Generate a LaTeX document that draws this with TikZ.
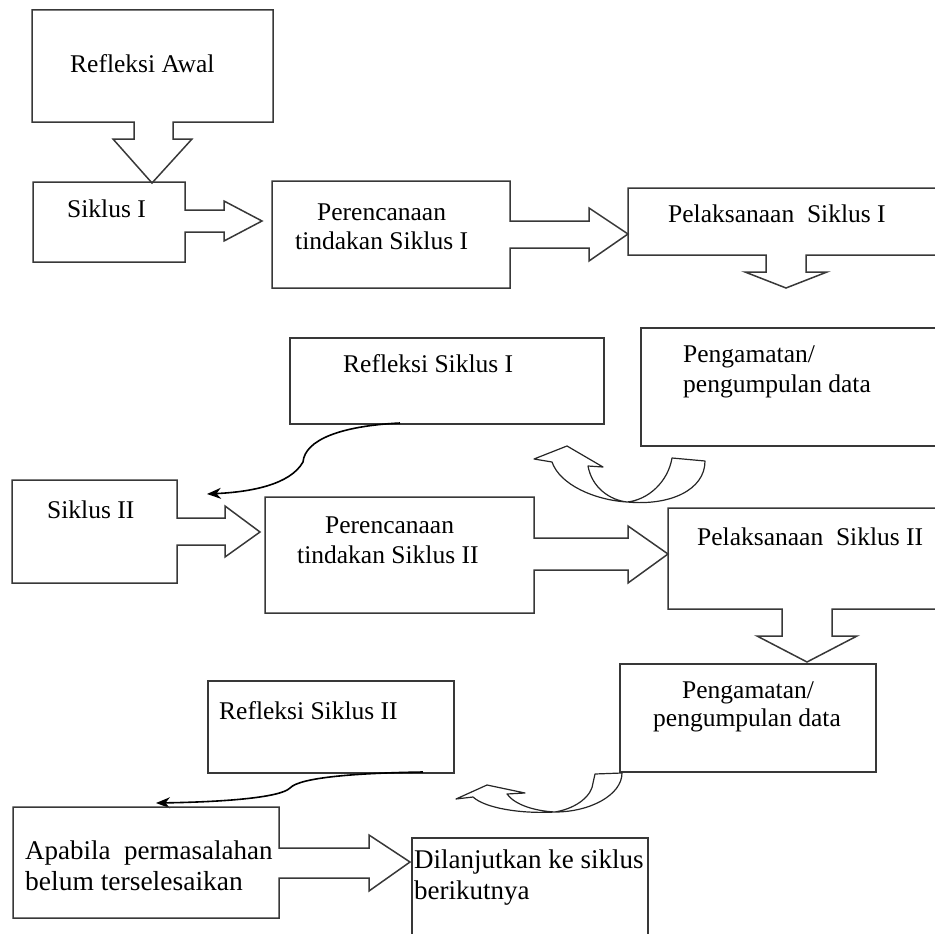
\documentclass[tikz,border=0pt]{standalone}
\usepackage{fontspec}
\setmainfont{Liberation Serif}
\usetikzlibrary{arrows.meta}
\begin{document}
\begin{tikzpicture}[x=1pt,y=-1pt,
  outline/.style={draw=black!78, line width=1.5pt, line join=miter},
  rbox/.style={outline, inner sep=0pt, anchor=north west},
  lbl/.style={anchor=base west, inner sep=0pt, font=\fontsize{25.5}{30}\selectfont},
  lblbig/.style={lbl, font=\fontsize{27}{32}\selectfont},
  uarrow/.style={draw=black!85, line width=1.2pt, line join=round},
  thinarrow/.style={draw=black, line width=1.6pt, -{Stealth[length=14pt,width=11pt]}}]
\useasboundingbox (0,0) rectangle (935,934);
\clip (0,0) rectangle (935,934);

% Refleksi Awal with down arrow
\draw[outline] (32,10) -- (273,10) -- (273,122) -- (173,122) -- (173,139) -- (192,139)
  -- (152,183) -- (113,139) -- (134,139) -- (134,122) -- (32,122) -- cycle;
\node[lbl] (tAwal) at (70,73) {Refleksi Awal};

% Siklus I with right arrow
\draw[outline] (33,182) -- (185,182) -- (185,210) -- (224,210) -- (224,201) -- (262,221)
  -- (224,241) -- (224,232) -- (185,232) -- (185,262) -- (33,262) -- cycle;
\node[lbl] (tS1) at (67,217) {Siklus I};

% Perencanaan I with right arrow
\draw[outline] (272,181) -- (510,181) -- (510,221) -- (589,221) -- (589,208) -- (628,234)
  -- (589,261) -- (589,248) -- (510,248) -- (510,288) -- (272,288) -- cycle;
\node[lbl] (tP1a) at (317,220) {Perencanaan};
\node[lbl] (tP1b) at (295,249) {tindakan Siklus I};

% Pelaksanaan I with down arrow
\draw[outline] (945,188) -- (628,188) -- (628,255) -- (766,255) -- (766,272) -- (745,272)
  -- (786,288) -- (827,272) -- (806,272) -- (806,255) -- (945,255);
\node[lbl] (tL1) at (668,222) {Pelaksanaan\ \ Siklus I};

% Pengamatan I
\draw[outline] (945,328) -- (641,328) -- (641,446) -- (945,446);
\node[lbl] (tG1a) at (683,362) {Pengamatan/};
\node[lbl] (tG1b) at (683,392) {pengumpulan data};

% Refleksi Siklus I
\node[rbox, minimum width=314pt, minimum height=86pt] (r1) at (289,337) {};
\node[lbl] (tR1) at (343,372) {Refleksi Siklus I};

% curved block arrow 1
\draw[uarrow] (534,459) -- (567,446) -- (603,467) -- (588,466)
  .. controls (592,488) and (610,500) .. (627,502)
  .. controls (648,500) and (668,482) .. (672,458) -- (705,461)
  .. controls (705,490) and (670,506) .. (627,502)
  .. controls (595,500) and (560,485) .. (552,462) -- cycle;

% thin curved arrow 1
\coordinate (c1s) at (400,423);
\coordinate (c1e) at (207,494);
\draw[thinarrow] (c1s) .. controls (340,426) and (305,440) .. (303,462)
  .. controls (290,485) and (250,492) .. (c1e);

% Siklus II with right arrow
\draw[outline] (12,480) -- (177,480) -- (177,518) -- (225,518) -- (225,506) -- (260,532)
  -- (225,557) -- (225,545) -- (177,545) -- (177,583) -- (12,583) -- cycle;
\node[lbl] (tS2) at (47,518) {Siklus II};

% Perencanaan II with right arrow
\draw[outline] (265,497) -- (534,497) -- (534,538) -- (628,538) -- (628,526) -- (668,554)
  -- (628,583) -- (628,570) -- (534,570) -- (534,613) -- (265,613) -- cycle;
\node[lbl] (tP2a) at (325,533) {Perencanaan};
\node[lbl] (tP2b) at (297,563) {tindakan Siklus II};

% Pelaksanaan II with down arrow
\draw[outline] (945,508) -- (668,508) -- (668,609) -- (782,609) -- (782,636) -- (757,636)
  -- (807,662) -- (857,636) -- (832,636) -- (832,609) -- (945,609);
\node[lbl] (tL2) at (697,545) {Pelaksanaan\ \ Siklus II};

% Pengamatan II
\node[rbox, minimum width=256pt, minimum height=108pt] (g2) at (619,663) {};
\node[lbl] (tG2a) at (682,698) {Pengamatan/};
\node[lbl] (tG2b) at (653,726) {pengumpulan data};

% curved block arrow 2
\draw[uarrow] (456,799) -- (487,785) -- (525,793) -- (507,794)
  .. controls (515,805) and (535,811) .. (555,812)
  .. controls (578,808) and (592,795) .. (593,783) -- (595,774) -- (622,773)
  .. controls (622,795) and (590,812) .. (555,812)
  .. controls (520,814) and (485,808) .. (473,797) -- cycle;

% Refleksi Siklus II
\node[rbox, minimum width=246pt, minimum height=92pt] (r2) at (207,680) {};
\node[lbl] (tR2) at (219,719) {Refleksi Siklus II};

% thin curved arrow 2
\coordinate (c2s) at (423,772);
\coordinate (c2e) at (156,803);
\draw[thinarrow] (c2s) .. controls (360,773) and (300,777) .. (290,788)
  .. controls (280,798) and (220,802) .. (c2e);

% Apabila with right arrow
\draw[outline] (13,807) -- (279,807) -- (279,848) -- (369,848) -- (369,835) -- (410,862)
  -- (369,891) -- (369,878) -- (279,878) -- (279,918) -- (13,918) -- cycle;
\node[lblbig] (tA1) at (25,859) {Apabila\ \ permasalahan};
\node[lbl, font=\fontsize{27.5}{32}\selectfont] (tA2) at (25,890) {belum terselesaikan};

% Dilanjutkan
\draw[outline] (412,945) -- (412,838) -- (648,838) -- (648,945);
\node[lblbig] (tD1) at (414,868) {Dilanjutkan ke siklus};
\node[lblbig] (tD2) at (414,899) {berikutnya};
\end{tikzpicture}
\end{document}
